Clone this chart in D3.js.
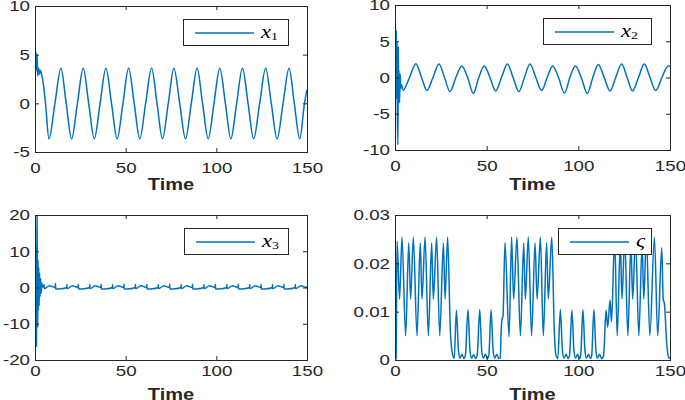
<!DOCTYPE html>
<html>
<head>
<meta charset="utf-8">
<script src="https://cdn.jsdelivr.net/npm/d3@7"></script>
<style>
  body { margin: 0; background: #fff; }
  svg { display: block; }
</style>
</head>
<body>
<svg id="chart"></svg>
<script>
// [time, value] pairs
const x1Data = [
  [0, 0], [0.3, 4.5], [0.55, 5.3], [0.9, 3.4], [1.2, 5.0], [1.5, 2.8], [2.0, 3.6], [2.5, 3.0], [3.0, 3.4],
  [3.6, 3.0], [4.6, 2.0], [5.8, 0], [7.7, -3.65], [11.0, 0], [14.3, 3.6], [17.2, 0], [20.2, -3.65],
  [23.4, 0], [26.6, 3.6], [29.6, 0], [32.7, -3.65], [35.9, 0], [39.1, 3.6], [42.2, 0], [45.3, -3.65],
  [48.5, 0], [51.6, 3.6], [54.7, 0], [57.8, -3.65], [61.0, 0], [64.3, 3.6], [67.3, 0], [70.3, -3.65],
  [73.5, 0], [76.6, 3.6], [79.8, 0], [83.0, -3.65], [86.2, 0], [89.4, 3.6], [92.4, 0], [95.5, -3.65],
  [98.7, 0], [101.9, 3.6], [105.0, 0], [108.0, -3.65], [111.2, 0], [114.4, 3.6], [117.5, 0], [120.6, -3.65],
  [123.9, 0], [127.2, 3.6], [130.3, 0], [133.5, -3.65], [136.8, 0], [140.1, 3.6], [143.0, 0], [146.0, -3.65],
  [148.6, 0], [150, 1.4]
];

const x2Data = [
  [0, 5.0], [0.3, 7.7], [0.5, 2.0], [0.7, 6.5], [0.9, -3.0], [1.1, 4.8], [1.3, -5.5], [1.6, -9.3],
  [1.8, 4.3], [2.0, -2.6], [2.2, 1.0], [2.5, -3.5], [2.8, 0.5], [3.2, -1.5], [3.6, -1.0], [4.4, -1.75],
  [7.9, 0], [11.4, 1.9], [14.5, 0], [17.4, -1.8], [20.7, 0], [24.0, 1.85], [27.0, 0], [30.0, -1.95],
  [33.2, 0], [36.4, 1.6], [39.6, 0], [42.7, -2.2], [45.7, 0], [48.7, 1.6], [51.8, 0], [54.9, -1.85],
  [58.1, 0], [61.3, 1.85], [64.4, 0], [67.6, -1.95], [70.6, 0], [73.6, 1.85], [76.8, 0], [80.0, -1.8],
  [83.0, 0], [86.0, 1.6], [89.2, 0], [92.4, -2.15], [95.4, 0], [98.4, 1.6], [101.6, 0], [104.9, -2.2],
  [107.9, 0], [110.9, 1.8], [114.1, 0], [117.3, -1.85], [120.4, 0], [123.6, 1.85], [126.6, 0], [129.6, -1.85],
  [132.8, 0], [136.0, 1.85], [139.1, 0], [142.2, -1.8], [145.6, 0], [149.0, 1.6], [150, 1.55]
];

const x3Data = [
  [0, 13], [0.2, 4], [0.4, 11], [0.6, -6], [0.8, -16.3], [1.0, 8], [1.15, 20], [1.3, -4], [1.5, -11],
  [1.7, 7.6], [1.9, -6.2], [2.1, 5.5], [2.3, -5], [2.5, 4], [2.8, -2.5], [3.1, 2.5], [3.4, -1.5],
  [3.8, 1.2], [4.2, 0.2], [4.6, 0.5],
  [4.9, 0.0], [5.0, 0.8], [5.1, -0.3], [8.05, 0.45],
  [11.2, 0.0], [11.3, 1.2], [11.4, -0.4], [14.35, -0.35],
  [17.5, 0.0], [17.6, 0.8], [17.7, -0.3], [20.65, 0.45],
  [23.8, 0.0], [23.9, 0.9], [24.0, -0.4], [26.95, -0.35],
  [30.1, 0.0], [30.2, 0.8], [30.3, -0.3], [33.25, 0.45],
  [36.4, 0.0], [36.5, 0.9], [36.6, -0.4], [39.55, -0.35],
  [42.7, 0.0], [42.8, 0.8], [42.9, -0.3], [45.85, 0.45],
  [49.0, 0.0], [49.1, 0.9], [49.2, -0.4], [52.15, -0.35],
  [55.3, 0.0], [55.4, 0.8], [55.5, -0.3], [58.45, 0.45],
  [61.6, 0.0], [61.7, 0.9], [61.8, -0.4], [64.75, -0.35],
  [67.9, 0.0], [68.0, 0.8], [68.1, -0.3], [71.05, 0.45],
  [74.2, 0.0], [74.3, 0.9], [74.4, -0.4], [77.35, -0.35],
  [80.5, 0.0], [80.6, 0.8], [80.7, -0.3], [83.65, 0.45],
  [86.8, 0.0], [86.9, 0.9], [87.0, -0.4], [89.95, -0.35],
  [93.1, 0.0], [93.2, 0.8], [93.3, -0.3], [96.25, 0.45],
  [99.4, 0.0], [99.5, 0.9], [99.6, -0.4], [102.55, -0.35],
  [105.7, 0.0], [105.8, 0.8], [105.9, -0.3], [108.85, 0.45],
  [112.0, 0.0], [112.1, 0.9], [112.2, -0.4], [115.15, -0.35],
  [118.3, 0.0], [118.4, 0.8], [118.5, -0.3], [121.45, 0.45],
  [124.6, 0.0], [124.7, 0.9], [124.8, -0.4], [127.75, -0.35],
  [130.9, 0.0], [131.0, 0.8], [131.1, -0.3], [134.05, 0.45],
  [137.2, 0.0], [137.3, 0.9], [137.4, -0.4], [140.35, -0.35],
  [143.5, 0.0], [143.6, 0.8], [143.7, -0.3], [146.65, 0.45],
  [149.8, 0.0], [150, 0.3]
];

const varsigmaData = [
  [0, 0], [0.6, 0.0003], [1.1, 0.0246], [2.5, 0.0126], [3.8, 0.0254], [5.8, 0.005], [7.5, 0.0242],
  [8.5, 0.0126], [10.0, 0.0254], [12.0, 0.005], [13.8, 0.0242], [14.7, 0.0126], [16.4, 0.0254],
  [18.2, 0.005], [20.0, 0.0242], [20.9, 0.0126], [22.7, 0.0254], [24.4, 0.005], [26.4, 0.0242],
  [27.3, 0.0126], [28.7, 0.0254], [30.2, 0.006], [31.3, 0.0013], [32.3, 0.0003], [33.5, 0.0103],
  [34.6, 0.002], [35.5, 0.0004], [36.5, 0.0012], [37.6, 0.0003], [38.4, 0.001], [39.8, 0.0104],
  [40.9, 0.002], [41.8, 0.0004], [42.9, 0.0011], [44.0, 0.0003], [44.9, 0.0012], [46.2, 0.0104],
  [47.3, 0.002], [48.2, 0.0004], [49.3, 0.0012], [50.4, 0.0003], [51.2, 0.001], [52.4, 0.0104],
  [53.5, 0.002], [54.4, 0.0004], [55.5, 0.0012], [56.6, 0.0003], [57.4, 0.0004], [58.0, 0.007],
  [58.5, 0.0086], [58.9, 0.009], [60.0, 0.0243], [62.2, 0.0048], [63.6, 0.0254], [64.7, 0.0126],
  [66.5, 0.0254], [68.4, 0.005], [70.2, 0.0242], [71.1, 0.0126], [72.7, 0.0254], [74.5, 0.005],
  [76.4, 0.0242], [77.5, 0.0126], [79.3, 0.0254], [80.9, 0.005], [82.7, 0.0242], [83.6, 0.0126],
  [85.5, 0.0254], [86.9, 0.006], [87.8, 0.001], [88.8, 0.0003], [90.2, 0.0104], [91.3, 0.002],
  [92.2, 0.0004], [93.3, 0.0012], [94.4, 0.0003], [95.2, 0.001], [96.5, 0.0103], [97.6, 0.002],
  [98.5, 0.0004], [99.6, 0.0012], [100.6, 0.0003], [101.3, 0.001], [102.5, 0.0104], [103.6, 0.002],
  [104.5, 0.0004], [105.6, 0.0012], [106.6, 0.0003], [107.3, 0.001], [108.5, 0.0104], [109.6, 0.002],
  [110.5, 0.0004], [111.6, 0.0012], [112.7, 0.0003], [113.8, 0.001], [115.1, 0.0103], [116.0, 0.0068],
  [117.3, 0.0124], [118.1, 0.0079], [119.8, 0.0254], [121.2, 0.005], [122.9, 0.0242], [123.8, 0.0126],
  [125.3, 0.0254], [127.0, 0.005], [128.7, 0.0242], [129.6, 0.0126], [131.2, 0.0254], [133.0, 0.005],
  [134.8, 0.0242], [135.7, 0.0126], [137.1, 0.0254], [139.0, 0.005], [141.5, 0.0254], [143.3, 0.005],
  [145.5, 0.0232], [146.3, 0.0125], [146.9, 0.0118], [148.3, 0.003], [149.2, 0.0006], [150, 0.0003]
];

const timeTicks = [0, 50, 100, 150];
const x1Ticks = [-5, 0, 5, 10];
const x2Ticks = [-10, -5, 0, 5, 10];
const x3Ticks = [-20, -10, 0, 10, 20];
const varsigmaTicks = [0, 0.01, 0.02, 0.03];

const svgWidth = 685;
const svgHeight = 400;
const lineColor = "#0072BD";
const axisColor = "#262626";
const sansFont = "'Liberation Sans', Arial, Helvetica, sans-serif";
const serifFont = "'Liberation Serif', 'Times New Roman', serif";
const stretch = 1.25; // reference text is drawn wider than normal

const svg = d3.select("#chart").attr("width", svgWidth).attr("height", svgHeight);

const panels = [
  { data: x1Data, yTicks: x1Ticks, left: 35, right: 307, top: 6, bottom: 152, labelGap: 10, timeY: 190,
    legend: { sym: "x", sub: "1", width: 105 } },
  { data: x2Data, yTicks: x2Ticks, left: 395, right: 670, top: 5, bottom: 150, labelGap: 10, timeY: 190,
    legend: { sym: "x", sub: "2", width: 108 } },
  { data: x3Data, yTicks: x3Ticks, left: 35, right: 307, top: 215, bottom: 360, labelGap: 5.5, timeY: 399.5,
    legend: { sym: "x", sub: "3", width: 104 } },
  { data: varsigmaData, yTicks: varsigmaTicks, left: 395, right: 670, top: 215, bottom: 360, labelGap: 5.5, timeY: 399.5,
    legend: { sym: "\u03C2", sub: null, width: 93 } }
];

function styleAxis(g) {
  g.select(".domain").remove();
  g.selectAll(".tick line").attr("stroke", axisColor);
  g.selectAll(".tick text")
    .attr("fill", axisColor)
    .attr("font-family", sansFont)
    .attr("font-size", 15)
    .attr("transform", `scale(${stretch},1)`);
}

function drawPanel(p, i) {
  const x = d3.scaleLinear().domain([0, 150]).range([p.left, p.right]);
  const y = d3.scaleLinear().domain(d3.extent(p.yTicks)).range([p.bottom, p.top]);
  const g = svg.append("g");

  const clipId = "clip-" + i;
  g.append("clipPath").attr("id", clipId)
    .append("rect")
    .attr("x", p.left).attr("y", p.top)
    .attr("width", p.right - p.left).attr("height", p.bottom - p.top);

  const line = d3.line()
    .x(d => x(d[0]))
    .y(d => y(d[1]))
    .curve(d3.curveMonotoneX);

  g.append("path")
    .datum(p.data)
    .attr("clip-path", `url(#${clipId})`)
    .attr("d", line)
    .attr("fill", "none")
    .attr("stroke", lineColor)
    .attr("stroke-width", 1.5)
    .attr("stroke-linejoin", "round");

  // axes, ticks pointing inward like MATLAB
  g.append("g")
    .attr("transform", `translate(0,${p.bottom})`)
    .call(d3.axisBottom(x).tickValues(timeTicks).tickSizeInner(-4).tickSizeOuter(0).tickPadding(p.labelGap))
    .call(styleAxis);
  g.append("g")
    .attr("transform", `translate(0,${p.top})`)
    .call(d3.axisTop(x).tickValues(timeTicks).tickSizeInner(-4).tickSizeOuter(0).tickFormat(""))
    .call(styleAxis);
  g.append("g")
    .attr("transform", `translate(${p.left},0)`)
    .call(d3.axisLeft(y).tickValues(p.yTicks).tickSizeInner(-4).tickSizeOuter(0).tickPadding(4)
      .tickFormat(d => String(d)))
    .call(styleAxis);
  g.append("g")
    .attr("transform", `translate(${p.right},0)`)
    .call(d3.axisRight(y).tickValues(p.yTicks).tickSizeInner(-4).tickSizeOuter(0).tickFormat(""))
    .call(styleAxis);

  // box
  g.append("rect")
    .attr("x", p.left + 0.5).attr("y", p.top + 0.5)
    .attr("width", p.right - p.left).attr("height", p.bottom - p.top)
    .attr("fill", "none")
    .attr("stroke", axisColor)
    .attr("stroke-width", 1);

  // x label
  g.append("text")
    .attr("transform", `translate(${(p.left + p.right) / 2},${p.timeY}) scale(${stretch},1)`)
    .attr("text-anchor", "middle")
    .attr("font-family", sansFont)
    .attr("font-weight", "bold")
    .attr("font-size", 16)
    .attr("fill", axisColor)
    .text("Time");

  // legend
  const lx = p.right - 19 - p.legend.width;
  const ly = p.top + 13;
  const lg = g.append("g");
  lg.append("rect")
    .attr("x", lx + 0.5).attr("y", ly + 0.5)
    .attr("width", p.legend.width).attr("height", 26)
    .attr("fill", "#fff")
    .attr("stroke", axisColor)
    .attr("stroke-width", 1);
  lg.append("line")
    .attr("x1", lx + 12).attr("x2", lx + 71)
    .attr("y1", ly + 14).attr("y2", ly + 14)
    .attr("stroke", lineColor)
    .attr("stroke-width", 1.5);
  const label = lg.append("text")
    .attr("transform", `translate(${lx + 78},${ly + 18.5}) scale(${stretch},1)`)
    .attr("font-family", serifFont)
    .attr("font-style", "italic")
    .attr("font-size", 18)
    .attr("fill", "#000");
  label.append("tspan").text(p.legend.sym);
  if (p.legend.sub) {
    label.append("tspan")
      .attr("font-style", "normal")
      .attr("font-size", 11)
      .attr("dy", 2)
      .text(p.legend.sub);
  }
}

panels.forEach((p, i) => drawPanel(p, i));
</script>
</body>
</html>
